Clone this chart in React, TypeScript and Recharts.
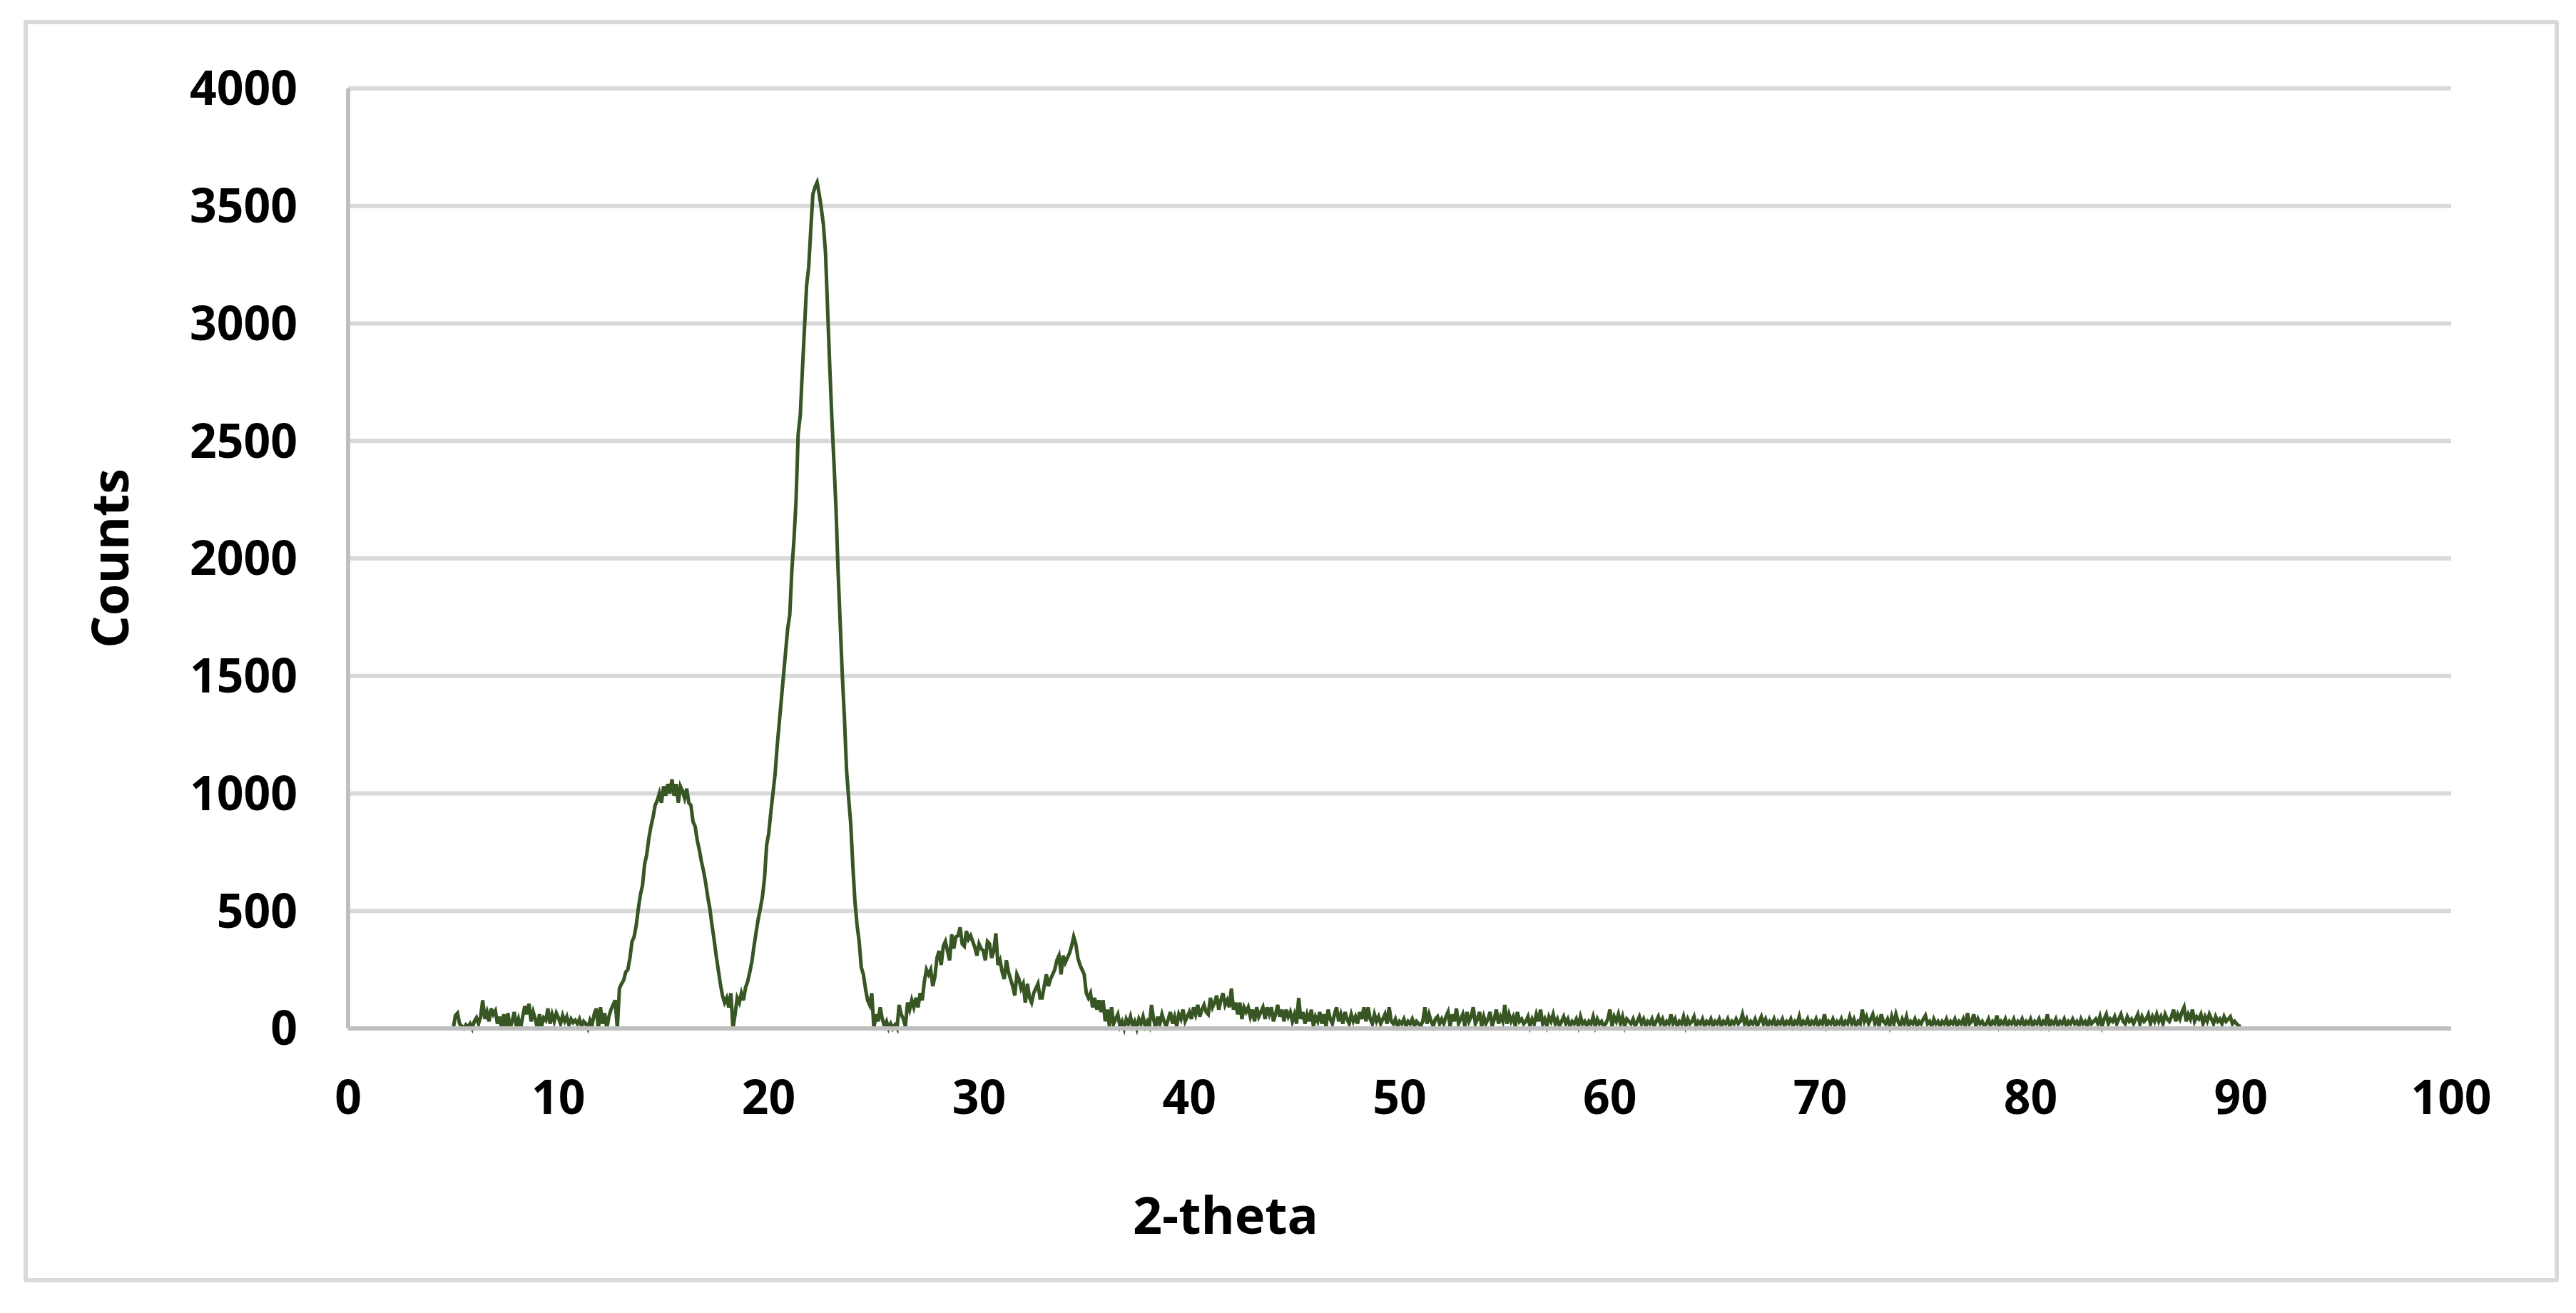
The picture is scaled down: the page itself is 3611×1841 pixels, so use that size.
import React from 'react';
import { LineChart, Line, XAxis, YAxis, CartesianGrid } from 'recharts';

// scan grid of the diffractogram
const startTheta = 5;
const stepTheta = 0.1;

// counts, one row per degree (x.0 .. x.9), starting at 5
const countRows: number[][] = [
  [0, 55, 65, 20, 10, 0, 15, 5, 20, 0],
  [30, 45, 20, 50, 120, 40, 70, 30, 85, 60],
  [75, 20, 50, 0, 60, 10, 65, 0, 30, 70],
  [10, 40, 0, 50, 95, 60, 105, 30, 70, 40],
  [0, 60, 10, 45, 35, 85, 20, 60, 30, 65],
  [45, 20, 55, 30, 50, 15, 40, 25, 35, 20],
  [40, 10, 30, 20, 0, 35, 15, 60, 85, 0],
  [90, 20, 65, 0, 50, 80, 100, 120, 0, 170],
  [190, 205, 240, 250, 300, 370, 390, 440, 510, 570],
  [610, 700, 740, 810, 860, 900, 950, 970, 1000, 960],
  [1030, 990, 1040, 1000, 1060, 990, 1040, 960, 1030, 1010],
  [980, 1020, 960, 950, 880, 860, 800, 760, 710, 670],
  [620, 560, 510, 440, 380, 310, 250, 190, 140, 110],
  [130, 90, 150, 0, 60, 130, 110, 150, 120, 175],
  [200, 240, 285, 350, 410, 465, 510, 560, 640, 780],
  [830, 920, 1000, 1080, 1200, 1300, 1400, 1500, 1600, 1700],
  [1760, 1950, 2080, 2250, 2530, 2610, 2800, 2980, 3160, 3240],
  [3400, 3550, 3580, 3600, 3550, 3490, 3420, 3300, 3060, 2820],
  [2600, 2410, 2210, 1940, 1720, 1500, 1320, 1100, 980, 870],
  [690, 540, 440, 370, 260, 230, 170, 120, 100, 150],
  [0, 60, 30, 90, 40, 10, 30, 0, 20, 0],
  [15, 0, 100, 60, 40, 10, 110, 80, 120, 90],
  [130, 90, 150, 120, 200, 250, 230, 250, 180, 220],
  [300, 330, 270, 350, 370, 330, 290, 400, 340, 390],
  [395, 430, 360, 350, 415, 380, 395, 370, 345, 310],
  [360, 340, 330, 290, 370, 360, 300, 330, 405, 270],
  [290, 240, 210, 290, 240, 210, 180, 140, 230, 210],
  [170, 190, 110, 190, 130, 110, 150, 170, 190, 130],
  [130, 180, 230, 180, 210, 230, 250, 290, 310, 230],
  [310, 280, 300, 320, 350, 390, 360, 300, 270, 250],
  [230, 150, 130, 150, 90, 130, 80, 120, 70, 120],
  [30, 80, 10, 90, 20, 40, 60, 10, 30, 0],
  [40, 20, 50, 10, 30, 0, 40, 20, 50, 10],
  [30, 10, 100, 40, 0, 50, 20, 60, 30, 10],
  [40, 70, 20, 50, 10, 60, 40, 80, 30, 50],
  [70, 40, 90, 60, 100, 50, 80, 100, 70, 60],
  [130, 90, 110, 140, 80, 120, 150, 100, 120, 90],
  [170, 80, 110, 60, 110, 40, 90, 70, 90, 50],
  [80, 30, 90, 50, 70, 90, 40, 90, 60, 90],
  [30, 60, 100, 50, 80, 30, 80, 50, 70, 30],
  [60, 20, 130, 40, 70, 20, 60, 30, 80, 10],
  [50, 30, 70, 20, 60, 10, 80, 40, 20, 60],
  [90, 30, 60, 20, 70, 40, 20, 60, 30, 50],
  [20, 70, 40, 90, 30, 90, 40, 20, 60, 30],
  [50, 20, 40, 60, 20, 90, 30, 20, 40, 10],
  [30, 20, 40, 10, 30, 20, 40, 10, 30, 20],
  [10, 30, 90, 20, 60, 30, 10, 40, 50, 20],
  [40, 20, 50, 70, 10, 60, 30, 85, 20, 40],
  [60, 10, 70, 30, 50, 90, 20, 40, 70, 10],
  [50, 20, 40, 70, 10, 40, 80, 20, 50, 30],
  [100, 20, 60, 30, 50, 10, 70, 30, 40, 20],
  [30, 50, 10, 40, 20, 60, 30, 80, 20, 40],
  [10, 50, 30, 60, 20, 40, 10, 30, 50, 20],
  [40, 10, 30, 20, 40, 10, 50, 20, 30, 10],
  [30, 20, 50, 10, 40, 20, 30, 10, 20, 40],
  [80, 10, 50, 30, 60, 20, 50, 10, 40, 30],
  [20, 40, 10, 30, 50, 20, 40, 10, 30, 20],
  [40, 10, 30, 50, 20, 40, 10, 30, 20, 60],
  [20, 40, 10, 30, 20, 50, 10, 40, 20, 30],
  [50, 10, 30, 20, 40, 10, 30, 20, 40, 10],
  [30, 20, 40, 10, 30, 20, 40, 10, 30, 20],
  [40, 20, 30, 60, 20, 40, 10, 30, 20, 40],
  [10, 30, 50, 20, 40, 10, 30, 20, 40, 10],
  [30, 20, 40, 10, 30, 20, 40, 10, 30, 20],
  [50, 10, 30, 20, 40, 10, 30, 20, 40, 10],
  [30, 20, 60, 10, 30, 20, 40, 10, 30, 20],
  [40, 10, 30, 20, 50, 20, 40, 10, 30, 20],
  [80, 30, 50, 20, 40, 60, 20, 40, 10, 60],
  [30, 20, 40, 10, 50, 20, 60, 30, 10, 40],
  [20, 50, 10, 30, 20, 40, 10, 30, 20, 40],
  [55, 20, 30, 10, 40, 20, 30, 10, 30, 20],
  [40, 10, 30, 20, 40, 10, 30, 20, 40, 10],
  [65, 20, 30, 60, 10, 40, 20, 30, 10, 20],
  [40, 10, 30, 20, 55, 10, 30, 20, 40, 10],
  [30, 20, 40, 10, 30, 20, 40, 10, 30, 20],
  [40, 10, 30, 20, 40, 10, 30, 20, 60, 10],
  [30, 20, 40, 10, 30, 20, 40, 10, 30, 20],
  [40, 20, 30, 10, 40, 20, 30, 10, 40, 20],
  [30, 40, 20, 50, 10, 40, 60, 20, 40, 30],
  [50, 20, 40, 60, 30, 20, 50, 30, 40, 20],
  [40, 60, 20, 50, 30, 40, 60, 20, 50, 30],
  [60, 30, 50, 20, 60, 40, 30, 50, 80, 30],
  [60, 40, 70, 90, 30, 60, 40, 80, 30, 50],
  [40, 60, 20, 50, 30, 60, 40, 20, 50, 30],
  [40, 20, 50, 30, 40, 50, 20, 30, 20, 10],
];
const lastCount = 10; // value at 90.0

const xTicks = [0, 10, 20, 30, 40, 50, 60, 70, 80, 90, 100];
const yTicks = [0, 500, 1000, 1500, 2000, 2500, 3000, 3500, 4000];

const counts = [...countRows.flat(), lastCount];
const data = counts.map((c, i) => ({
  theta: Math.round((startTheta + i * stepTheta) * 10) / 10,
  counts: c,
}));

const font = { fontFamily: '"Open Sans", sans-serif', fontWeight: 700, fill: '#000' };

const App = () => {
  return (
    <div>
      <div
        style={{
          position: 'absolute',
          left: 33,
          top: 28,
          width: 3554,
          height: 1770,
          border: '6px solid #d9d9d9',
          borderRadius: 4,
          boxSizing: 'border-box',
          background: '#fff',
        }}
      />
      <div style={{ position: 'absolute', left: 0, top: 0 }}>
        <LineChart width={3611} height={1841} data={data} margin={{ top: 124, right: 175, bottom: 99, left: 100 }}>
          <CartesianGrid vertical={false} stroke="#d9d9d9" strokeWidth={6} />
          <XAxis
            dataKey="theta"
            type="number"
            domain={[0, 100]}
            ticks={xTicks}
            height={300}
            tickLine={false}
            tickSize={0}
            tickMargin={73}
            axisLine={{ stroke: '#bfbfbf', strokeWidth: 6 }}
            tick={{ ...font, fontSize: 66 }}
            label={{
              content: (props: any) => {
                const vb = props.viewBox;
                return (
                  <text x={vb.x + 1230} y={vb.y + 288} textAnchor="middle" style={{ ...font, fontSize: 72 }}>
                    2-theta
                  </text>
                );
              },
            }}
          />
          <YAxis
            type="number"
            domain={[0, 4000]}
            ticks={yTicks}
            width={388}
            tickLine={false}
            tickSize={0}
            tickMargin={71}
            axisLine={{ stroke: '#bfbfbf', strokeWidth: 6 }}
            tick={{ ...font, fontSize: 66 }}
            label={{
              content: (props: any) => {
                const vb = props.viewBox;
                const cx = vb.x + 80;
                const cy = vb.y + vb.height / 2;
                return (
                  <text x={cx} y={cy} textAnchor="middle" transform={`rotate(-90 ${cx} ${cy})`} style={{ ...font, fontSize: 72 }}>
                    Counts
                  </text>
                );
              },
            }}
          />
          <Line
            type="linear"
            dataKey="counts"
            stroke="#375623"
            strokeWidth={5}
            dot={false}
            activeDot={false}
            isAnimationActive={false}
          />
        </LineChart>
      </div>
    </div>
  );
};

export default App;
